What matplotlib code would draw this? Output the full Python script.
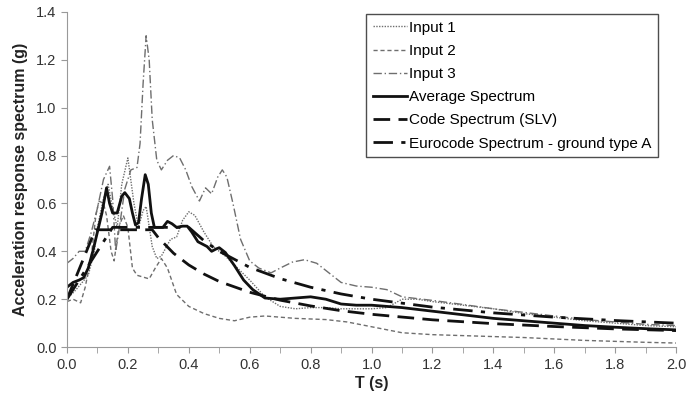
import matplotlib
matplotlib.use("Agg")
import matplotlib.pyplot as plt
from matplotlib.ticker import MultipleLocator, FormatStrFormatter

plt.rcParams['font.family'] = ['Liberation Sans', 'DejaVu Sans']

# values (T in s, Sa in g)
t_in1 = [0, 0.03, 0.05, 0.07, 0.09, 0.1, 0.12, 0.135, 0.15, 0.165, 0.18, 0.2, 0.22,
         0.235, 0.25, 0.26, 0.28, 0.295, 0.31, 0.34, 0.36, 0.38, 0.4, 0.42, 0.45, 0.48,
         0.52, 0.56, 0.6, 0.65, 0.7, 0.75, 0.8, 0.85, 0.9, 0.95, 1.0, 1.05, 1.1, 1.15,
         1.2, 1.3, 1.4, 1.5, 1.6, 1.7, 1.8, 1.9, 2.0]
sa_in1 = [0.2, 0.24, 0.27, 0.3, 0.4, 0.5, 0.62, 0.68, 0.58, 0.5, 0.68, 0.79, 0.6,
          0.5, 0.57, 0.587, 0.42, 0.37, 0.38, 0.45, 0.46, 0.53, 0.565, 0.55, 0.48, 0.42,
          0.38, 0.33, 0.28, 0.21, 0.17, 0.16, 0.165, 0.165, 0.16, 0.16, 0.16, 0.165, 0.2, 0.2,
          0.19, 0.175, 0.16, 0.14, 0.125, 0.11, 0.1, 0.09, 0.085]

t_in2 = [0, 0.02, 0.045, 0.06, 0.08, 0.095, 0.105, 0.12, 0.13, 0.145, 0.155, 0.17,
         0.185, 0.2, 0.215, 0.23, 0.27, 0.29, 0.31, 0.33, 0.36, 0.4, 0.45, 0.5, 0.55,
         0.6, 0.65, 0.7, 0.75, 0.85, 0.92, 1.0, 1.1, 1.2, 1.3, 1.4, 1.5, 1.6, 1.7, 1.8,
         1.9, 2.0]
sa_in2 = [0.19, 0.2, 0.185, 0.25, 0.38, 0.55, 0.61, 0.6, 0.55, 0.4, 0.36, 0.5,
          0.55, 0.5, 0.33, 0.3, 0.285, 0.33, 0.37, 0.33, 0.22, 0.17, 0.14, 0.12, 0.11,
          0.125, 0.13, 0.125, 0.12, 0.115, 0.105, 0.085, 0.06, 0.052, 0.048, 0.044, 0.04,
          0.034, 0.028, 0.024, 0.02, 0.017]

t_in3 = [0, 0.02, 0.04, 0.06, 0.08, 0.1, 0.12, 0.14, 0.15, 0.16, 0.17, 0.19, 0.21,
         0.23, 0.24, 0.25, 0.26, 0.27, 0.28, 0.295, 0.31, 0.33, 0.35, 0.37, 0.39, 0.41,
         0.435, 0.455, 0.475, 0.495, 0.51, 0.525, 0.545, 0.57, 0.6, 0.63, 0.67, 0.7,
         0.74, 0.78, 0.82, 0.86, 0.9, 0.95, 1.0, 1.05, 1.1, 1.2, 1.3, 1.4, 1.5, 1.6,
         1.7, 1.8, 1.9, 2.0]
sa_in3 = [0.35, 0.37, 0.4, 0.4, 0.48, 0.58, 0.7, 0.755, 0.62, 0.4, 0.48, 0.66, 0.74,
          0.75, 0.85, 1.1, 1.3, 1.2, 0.95, 0.78, 0.74, 0.78, 0.8, 0.79, 0.74, 0.67,
          0.61, 0.665, 0.64, 0.71, 0.74, 0.71, 0.6, 0.45, 0.36, 0.33, 0.31, 0.33,
          0.355, 0.365, 0.35, 0.31, 0.27, 0.255, 0.25, 0.24, 0.21, 0.195, 0.178, 0.16,
          0.145, 0.13, 0.115, 0.105, 0.095, 0.09]

t_avg = [0, 0.02, 0.04, 0.055, 0.07, 0.085, 0.1, 0.115, 0.13, 0.14, 0.15, 0.165, 0.18,
         0.19, 0.205, 0.215, 0.225, 0.235, 0.245, 0.257, 0.267, 0.277, 0.287, 0.3, 0.315,
         0.33, 0.345, 0.36, 0.38, 0.395, 0.41, 0.43, 0.445, 0.46, 0.475, 0.49, 0.5, 0.52,
         0.55, 0.58, 0.61, 0.65, 0.7, 0.75, 0.8, 0.85, 0.9, 0.95, 1.0, 1.05, 1.1, 1.2,
         1.3, 1.4, 1.5, 1.6, 1.7, 1.8, 1.9, 2.0]
sa_avg = [0.25, 0.27, 0.28, 0.29, 0.33, 0.4, 0.48, 0.56, 0.665, 0.6, 0.56, 0.56, 0.63,
          0.645, 0.62, 0.56, 0.51, 0.52, 0.62, 0.72, 0.68, 0.56, 0.5, 0.5, 0.5,
          0.525, 0.515, 0.5, 0.505, 0.505, 0.48, 0.44, 0.43, 0.42, 0.4, 0.41, 0.415, 0.395,
          0.34, 0.28, 0.24, 0.205, 0.2, 0.205, 0.21, 0.2, 0.18, 0.175, 0.175, 0.17, 0.165, 0.15,
          0.135, 0.12, 0.11, 0.1, 0.09, 0.083, 0.077, 0.072]

t_code = [0, 0.093, 0.28, 0.3, 0.35, 0.4, 0.45, 0.5, 0.6, 0.7, 0.8, 0.9, 1.0, 1.2,
          1.4, 1.6, 1.8, 2.0]
sa_code = [0.2, 0.49, 0.49, 0.457, 0.392, 0.343, 0.305, 0.274, 0.229, 0.196, 0.172,
           0.152, 0.137, 0.114, 0.098, 0.086, 0.076, 0.069]

t_ec = [0, 0.15, 0.4, 0.45, 0.5, 0.6, 0.7, 0.8, 0.9, 1.0, 1.2, 1.4, 1.6, 1.8, 2.0]
sa_ec = [0.2, 0.5, 0.5, 0.444, 0.4, 0.333, 0.286, 0.25, 0.222, 0.2, 0.167, 0.143,
         0.125, 0.111, 0.1]

gray = '#6e6e6e'

fig = plt.figure(figsize=(6.9, 3.94), dpi=100)
ax = fig.add_axes([0.097, 0.119, 0.883, 0.851])

ax.plot(t_in1, sa_in1, color=gray, lw=1.0, ls=(0, (1, 1)), label='Input 1')
ax.plot(t_in2, sa_in2, color=gray, lw=1.0, ls=(0, (3, 2)), label='Input 2')
ax.plot(t_in3, sa_in3, color=gray, lw=1.0, ls=(0, (6, 2, 1, 2)), label='Input 3')
ax.plot(t_avg, sa_avg, color='#111111', lw=2.0, label='Average Spectrum')
ax.plot(t_code, sa_code, color='#111111', lw=2.0, ls=(0, (6, 3)),
        label='Code Spectrum (SLV)')
ax.plot(t_ec, sa_ec, color='#111111', lw=2.0, ls=(0, (7, 3, 1.5, 3)),
        label='Eurocode Spectrum - ground type A')

ax.set_xlim(0, 2.0)
ax.set_ylim(0, 1.4)
ax.xaxis.set_major_locator(MultipleLocator(0.2))
ax.xaxis.set_minor_locator(MultipleLocator(0.1))
ax.yaxis.set_major_locator(MultipleLocator(0.2))
ax.xaxis.set_major_formatter(FormatStrFormatter('%.1f'))
ax.yaxis.set_major_formatter(FormatStrFormatter('%.1f'))
ax.tick_params(which='both', direction='out', length=4, color='#999999',
               labelsize=10.5, labelcolor='#333333')

for s in ['top', 'right']:
    ax.spines[s].set_visible(False)
for s in ['left', 'bottom']:
    ax.spines[s].set_color('#999999')

ax.set_xlabel('T (s)', fontsize=11.5, fontweight='bold', color='#222222',
              labelpad=3)
ax.set_ylabel('Acceleration response spectrum (g)', fontsize=11.5,
              fontweight='bold', color='#222222', labelpad=6)

leg = ax.legend(loc='upper left', bbox_to_anchor=(0.491, 0.994), fontsize=11,
                frameon=True, fancybox=False, edgecolor='#222222',
                handlelength=2.2, handletextpad=0.15, labelspacing=0.6,
                borderpad=0.45, borderaxespad=0.0)
leg.get_frame().set_linewidth(1.0)

fig.savefig('out.png', dpi=100)
